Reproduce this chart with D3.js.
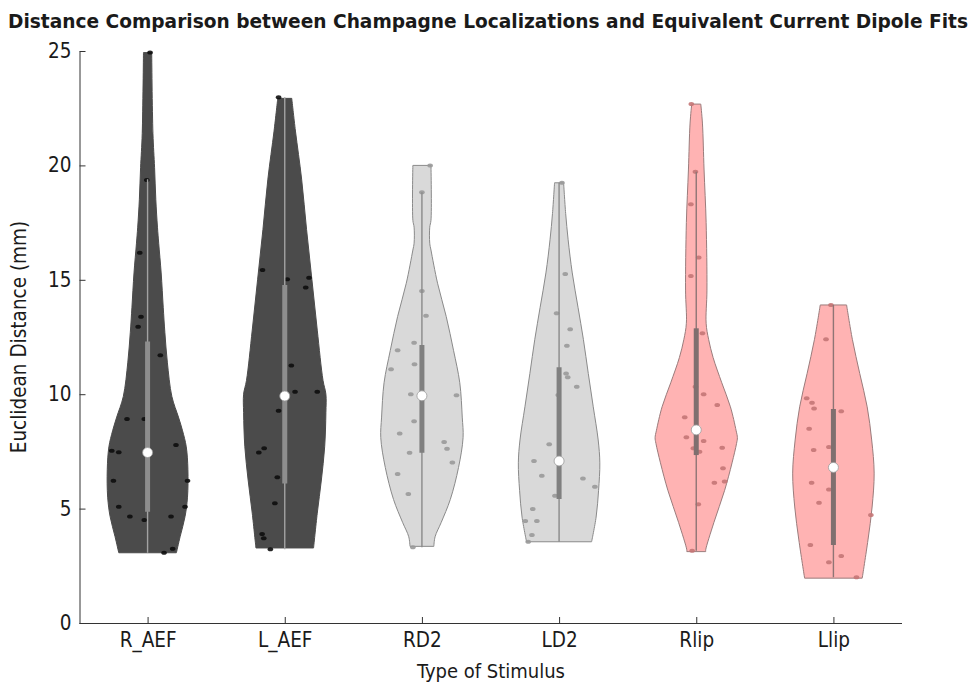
<!DOCTYPE html>
<html>
<head>
<meta charset="utf-8">
<script src="https://cdn.jsdelivr.net/npm/d3@7"></script>
<style>
  body { margin: 0; background: #fff; }
  svg text { fill: #1a1a1a; }
</style>
</head>
<body>
<div id="chart"></div>
<script>
// Violin plot: distance between Champagne localizations and ECD fits

const categories = ['R_AEF', 'L_AEF', 'RD2', 'LD2', 'Rlip', 'Llip']
const yTicks = [0, 5, 10, 15, 20, 25]

// violin outline: [distance (mm), relative density 0..1]
const profileRAEF = [[24.93, 0.10], [21.4, 0.13], [19.9, 0.17], [18.5, 0.20], [17.3, 0.24], [16.6, 0.27], [15.3, 0.33], [13.8, 0.38], [12.7, 0.42], [11.4, 0.48], [9.9, 0.59], [9.0, 0.75], [8.4, 0.85], [7.7, 0.94], [6.7, 0.98], [5.5, 0.97], [4.65, 0.91], [3.77, 0.79], [3.07, 0.70]]
const profileLAEF = [[22.93, 0.17], [21.5, 0.26], [19.4, 0.41], [17.2, 0.53], [15.0, 0.66], [12.8, 0.79], [10.6, 0.93], [10.0, 1.0], [9.2, 1.0], [7.7, 0.97], [6.25, 0.89], [4.8, 0.79], [3.28, 0.70]]
const profileRD2 = [[20.0, 0.22], [17.6, 0.22], [17.3, 0.19], [16.6, 0.19], [16.3, 0.22], [14.85, 0.38], [13.4, 0.59], [11.9, 0.77], [10.5, 0.92], [9.0, 0.98], [8.1, 1.0], [6.8, 0.89], [5.4, 0.69], [4.4, 0.47], [3.77, 0.32], [3.35, 0.29]]
const profileLD2 = [[19.24, 0.11], [17.9, 0.16], [16.75, 0.22], [15.3, 0.32], [13.8, 0.46], [12.4, 0.59], [10.9, 0.71], [9.45, 0.83], [8.0, 0.95], [7.0, 0.99], [5.8, 0.96], [4.63, 0.90], [3.55, 0.79]]
const profileRlip = [[22.68, 0.11], [21.85, 0.15], [19.8, 0.19], [17.5, 0.24], [14.55, 0.26], [13.1, 0.24], [12.4, 0.30], [11.6, 0.41], [10.5, 0.62], [9.45, 0.83], [8.4, 0.97], [8.1, 1.0], [7.85, 0.98], [7.0, 0.87], [5.8, 0.69], [4.4, 0.43], [3.2, 0.23], [3.12, 0.23]]
const profileLlip = [[13.9, 0.32], [12.4, 0.46], [10.9, 0.64], [9.45, 0.82], [8.0, 0.93], [6.55, 0.99], [5.07, 0.94], [3.63, 0.84], [1.96, 0.70]]

// individual observations: [distance (mm), horizontal jitter in violin half-widths]
const pointsRAEF = [[24.93, 0.06], [19.36, -0.02], [16.18, -0.19], [13.39, -0.16], [12.95, -0.23], [11.7, 0.31], [8.92, -0.50], [8.92, -0.08], [7.78, 0.69], [7.53, -0.87], [7.46, -0.70], [6.22, -0.83], [6.22, 0.97], [5.08, -0.70], [5.08, 0.91], [4.65, -0.43], [4.65, 0.57], [4.5, -0.08], [3.25, 0.61], [3.07, 0.40]]
const pointsLAEF = [[22.98, -0.15], [15.43, -0.54], [15.02, 0.06], [15.09, 0.59], [14.66, 0.51], [11.25, 0.16], [10.11, 0.25], [10.11, 0.79], [9.28, -0.15], [7.64, -0.50], [7.45, -0.63], [6.37, -0.18], [5.23, -0.24], [3.89, -0.55], [3.7, -0.51], [3.22, -0.35]]
const pointsRD2 = [[20.0, 0.20], [18.83, 0.0], [14.51, 0.0], [13.43, 0.10], [12.25, -0.19], [11.92, -0.59], [11.31, -0.18], [11.09, -0.75], [10.0, -0.27], [9.95, 0.84], [8.82, -0.19], [8.28, -0.54], [7.91, 0.54], [7.62, 0.61], [7.44, -0.30], [7.02, 0.74], [6.51, -0.59], [5.64, -0.33], [3.31, -0.22]]
const pointsLD2 = [[19.24, 0.07], [15.25, 0.15], [13.54, -0.06], [12.84, 0.27], [12.12, 0.19], [10.91, 0.17], [10.74, 0.21], [10.33, 0.43], [9.97, -0.02], [7.81, -0.24], [7.08, -0.61], [6.44, -0.42], [6.32, 0.58], [5.96, 0.87], [5.56, -0.10], [4.98, -0.64], [4.46, -0.82], [4.46, -0.54], [3.85, -0.66], [3.55, -0.75]]
const pointsRlip = [[22.68, -0.12], [19.72, -0.02], [18.3, -0.13], [15.98, 0.06], [15.17, -0.13], [12.66, 0.15], [10.33, -0.02], [10.0, 0.18], [9.53, 0.51], [8.99, -0.28], [8.12, -0.24], [7.95, 0.18], [7.64, -0.07], [7.49, 0.08], [7.66, 0.63], [6.76, 0.65], [6.13, 0.44], [6.18, 0.69], [5.19, 0.05], [3.16, -0.10]]
const pointsLlip = [[13.9, -0.06], [12.4, -0.18], [9.82, -0.65], [9.63, -0.52], [9.37, -0.47], [9.25, 0.19], [8.49, -0.59], [7.56, -0.48], [7.69, -0.11], [6.13, -0.53], [5.84, -0.11], [5.26, -0.35], [4.72, 0.91], [3.41, -0.56], [2.93, 0.19], [2.65, -0.11], [2.0, 0.56]]

// box stats: [q1, median, q3, whisker low, whisker high]
const boxStats = [
  [4.86, 7.45, 12.3, 3.07, 19.4],
  [6.1, 9.92, 14.77, 3.22, 22.98],
  [7.44, 9.93, 12.15, 3.31, 18.83],
  [5.42, 7.08, 11.18, 3.55, 19.24],
  [7.34, 8.44, 12.88, 3.16, 19.72],
  [3.41, 6.8, 9.35, 2.0, 13.9]
]

const profiles = [profileRAEF, profileLAEF, profileRD2, profileLD2, profileRlip, profileLlip]
const points = [pointsRAEF, pointsLAEF, pointsRD2, pointsLD2, pointsRlip, pointsLlip]

// styles per violin
const dark = { fill: '#4b4b4b', edge: '#4b4b4b', dot: '#0d0d0d', box: '#8e8e8e', whisker: '#a3a3a3' }
const grey = { fill: '#d9d9d9', edge: '#8a8a8a', dot: '#999999', box: '#808080', whisker: '#8a8a8a' }
const pink = { fill: '#ffb3b3', edge: '#9a7c7c', dot: '#c47676', box: '#7f6f6f', whisker: '#8f7575' }
const styles = [dark, dark, grey, grey, pink, pink]

const FONT = '"DejaVu Sans Condensed", "DejaVu Sans", sans-serif'

const W = 971, H = 684
const margin = { top: 51, right: 69, bottom: 61, left: 79 }

let svg = d3.select('#chart').append('svg')
    .attr('width', W)
    .attr('height', H)

let xScale = d3.scalePoint()
    .domain(categories)
    .range([margin.left, W - margin.right])
    .padding(0.5),
    yScale = d3.scaleLinear()
    .domain([0, 25])
    .range([H - margin.bottom, margin.top])

// half width of the widest violin = 0.3 of the category step
let wScale = d3.scaleLinear()
    .domain([0, 1])
    .range([0, 0.3 * xScale.step()])

// Violins
let area = d3.area()
    .y(d => yScale(d[0]))
    .curve(d3.curveCatmullRom.alpha(0.5))

categories.forEach((c, i) => {
  let cx = xScale(c),
      st = styles[i],
      g = svg.append('g').attr('class', 'violin')

  area.x0(d => cx - wScale(d[1])).x1(d => cx + wScale(d[1]))

  g.append('path')
    .datum(profiles[i])
    .attr('d', area)
    .attr('fill', st.fill)
    .attr('stroke', st.edge)
    .attr('stroke-width', 1)

  // observations
  g.selectAll('ellipse')
    .data(points[i])
    .join('ellipse')
    .attr('cx', d => cx + wScale(d[1]))
    .attr('cy', d => yScale(d[0]))
    .attr('rx', 2.8)
    .attr('ry', 2)
    .attr('fill', st.dot)
    .attr('opacity', 0.9)

  let b = boxStats[i]
  // whisker
  g.append('line')
    .attr('x1', cx).attr('x2', cx)
    .attr('y1', yScale(b[3])).attr('y2', yScale(b[4]))
    .attr('stroke', st.whisker)
    .attr('stroke-width', 1.4)
  // box
  g.append('line')
    .attr('x1', cx).attr('x2', cx)
    .attr('y1', yScale(b[0])).attr('y2', yScale(b[2]))
    .attr('stroke', st.box)
    .attr('stroke-width', 5)
  // median
  g.append('circle')
    .attr('cx', cx)
    .attr('cy', yScale(b[1]))
    .attr('r', 5)
    .attr('fill', '#fff')
    .attr('stroke', '#9a9a9a')
    .attr('stroke-width', 0.8)
})

// Axes
let xAxis = d3.axisBottom(xScale)
    .tickSizeInner(-6)
    .tickSizeOuter(0)
    .tickPadding(9)

let yAxis = d3.axisLeft(yScale)
    .tickValues(yTicks)
    .tickSizeInner(-6)
    .tickSizeOuter(0)
    .tickPadding(8)

let gx = svg.append('g')
    .attr('class', 'axis axis-x')
    .attr('transform', 'translate(0,' + (H - margin.bottom) + ')')
    .call(xAxis)

gx.select('.domain').attr('d', 'M' + (margin.left + 0.5) + ',0.5H' + (W - margin.right))

let gy = svg.append('g')
    .attr('class', 'axis axis-y')
    .attr('transform', 'translate(' + (margin.left + 0.5) + ',0)')
    .call(yAxis)

svg.selectAll('.axis .domain, .axis line').attr('stroke', '#333')
svg.selectAll('.axis text')
    .style('font-family', FONT)
    .style('font-size', '20.5px')
    .attr('fill', '#1a1a1a')

// Titles
svg.append('text')
    .attr('x', 488)
    .attr('y', 28)
    .attr('text-anchor', 'middle')
    .attr('textLength', 960)
    .attr('lengthAdjust', 'spacingAndGlyphs')
    .style('font-family', FONT)
    .style('font-weight', 'bold')
    .style('font-size', '20px')
    .text('Distance Comparison between Champagne Localizations and Equivalent Current Dipole Fits')

svg.append('text')
    .attr('transform', 'translate(26,' + 337 + ') rotate(-90)')
    .attr('text-anchor', 'middle')
    .style('font-family', FONT)
    .style('font-size', '20.5px')
    .text('Euclidean Distance (mm)')

svg.append('text')
    .attr('x', 491)
    .attr('y', 678)
    .attr('text-anchor', 'middle')
    .style('font-family', FONT)
    .style('font-size', '20px')
    .text('Type of Stimulus')
</script>
</body>
</html>
